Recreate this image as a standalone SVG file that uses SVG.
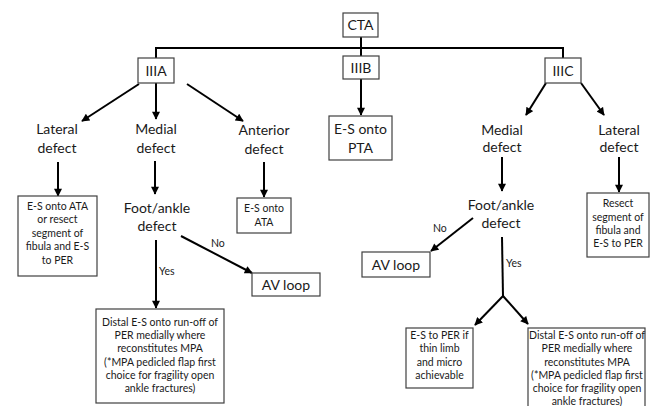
<svg xmlns="http://www.w3.org/2000/svg" width="665" height="406" viewBox="0 0 665 406">
<style>
  .box { fill: #ffffff; stroke: #404040; stroke-width: 1.2; }
  .t { font-family: Lato, "Open Sans", "Liberation Sans", sans-serif; fill: #1a1a1a; text-anchor: middle; }
  .big { font-size: 14px; }
  .sm { font-size: 10.5px; }
  .lbl { font-size: 10.5px; text-anchor: start; }
  .ln { stroke: #000; stroke-width: 2; fill: none; }
  .ar { stroke: #000; stroke-width: 2; fill: none; marker-end: url(#ah); }
</style>
<defs>
  <marker id="ah" viewBox="0 0 10 10" refX="9" refY="5" markerWidth="4.5" markerHeight="4" orient="auto" markerUnits="strokeWidth">
    <path d="M0,0 L10,5 L0,10 z" fill="#000"/>
  </marker>
</defs>
<rect width="665" height="406" fill="#ffffff"/>

<g id="connectors">
  <path class="ln" d="M156,58 V48 H563 V58"/>
  <path class="ln" d="M361,37 V56"/>
  <line class="ar" x1="139" y1="84" x2="82" y2="121"/>
  <line class="ar" x1="156" y1="83" x2="156" y2="119"/>
  <line class="ar" x1="187" y1="84" x2="243" y2="121"/>
  <line class="ar" x1="361" y1="79" x2="361" y2="115"/>
  <line class="ar" x1="546" y1="83" x2="526" y2="115"/>
  <line class="ar" x1="581" y1="83" x2="604" y2="115"/>
  <line class="ar" x1="58" y1="162" x2="58" y2="196"/>
  <line class="ar" x1="155" y1="161" x2="155" y2="194"/>
  <line class="ar" x1="264" y1="162" x2="264" y2="197"/>
  <line class="ar" x1="181" y1="236" x2="252" y2="273"/>
  <line class="ar" x1="156" y1="240" x2="156" y2="308"/>
  <line class="ar" x1="502" y1="157" x2="502" y2="191"/>
  <line class="ar" x1="619" y1="157" x2="619" y2="192"/>
  <line class="ar" x1="473" y1="218" x2="431" y2="251"/>
  <path class="ln" d="M502,237 L503,296"/>
  <line class="ar" x1="503" y1="296" x2="475" y2="325"/>
  <line class="ar" x1="503" y1="296" x2="528" y2="324"/>
  <text class="t lbl" x="211" y="247">No</text>
  <text class="t lbl" x="159" y="275">Yes</text>
  <text class="t lbl" x="433" y="232">No</text>
  <text class="t lbl" x="506" y="267">Yes</text>
</g>

<g id="cta"><rect class="box" x="343" y="13" width="35" height="24"/><text class="t big" x="360.5" y="30">CTA</text></g>
<g id="iiia"><rect class="box" x="138" y="58" width="36" height="25"/><text class="t big" x="156" y="75.5">IIIA</text></g>
<g id="iiib"><rect class="box" x="343" y="56" width="36" height="23"/><text class="t big" x="361" y="72.5">IIIB</text></g>
<g id="iiic"><rect class="box" x="545" y="58" width="36" height="25"/><text class="t big" x="563" y="75.5">IIIC</text></g>

<g id="a-lateral"><text class="t big" x="57" y="134">Lateral</text><text class="t big" x="57" y="153">defect</text></g>
<g id="a-medial"><text class="t big" x="156" y="134">Medial</text><text class="t big" x="156" y="153">defect</text></g>
<g id="a-anterior"><text class="t big" x="264" y="135">Anterior</text><text class="t big" x="264" y="154">defect</text></g>

<g id="a-lat-box"><rect class="box" x="18" y="196" width="79" height="80"/>
  <text class="t sm" x="57.5" y="210">E-S onto ATA</text>
  <text class="t sm" x="57.5" y="223">or resect</text>
  <text class="t sm" x="57.5" y="237">segment of</text>
  <text class="t sm" x="57.5" y="250">fibula and E-S</text>
  <text class="t sm" x="57.5" y="264">to PER</text>
</g>
<g id="a-foot"><text class="t big" x="157" y="213">Foot/ankle</text><text class="t big" x="157" y="231">defect</text></g>
<g id="a-ant-box"><rect class="box" x="237" y="198" width="54" height="35"/>
  <text class="t sm" x="264" y="212">E-S onto</text>
  <text class="t sm" x="264" y="226">ATA</text>
</g>
<g id="a-avloop"><rect class="box" x="252" y="273" width="68" height="23"/><text class="t big" x="286" y="289.5">AV loop</text></g>
<g id="a-distal"><rect class="box" x="96" y="309" width="128" height="94"/>
  <text class="t sm" x="160" y="326">Distal E-S onto run-off of</text>
  <text class="t sm" x="160" y="339">PER medially where</text>
  <text class="t sm" x="160" y="352">reconstitutes MPA</text>
  <text class="t sm" x="160" y="366">(*MPA pedicled flap first</text>
  <text class="t sm" x="160" y="379">choice for fragility open</text>
  <text class="t sm" x="160" y="392">ankle fractures)</text>
</g>

<g id="b-pta"><rect class="box" x="329" y="116" width="63" height="44"/>
  <text class="t big" x="360.5" y="134">E-S onto</text>
  <text class="t big" x="360.5" y="153">PTA</text>
</g>

<g id="c-medial"><text class="t big" x="502" y="135">Medial</text><text class="t big" x="502" y="152">defect</text></g>
<g id="c-lateral"><text class="t big" x="619" y="135">Lateral</text><text class="t big" x="619" y="152">defect</text></g>
<g id="c-resect"><rect class="box" x="587" y="193" width="62" height="64"/>
  <text class="t sm" x="618" y="207">Resect</text>
  <text class="t sm" x="618" y="221">segment of</text>
  <text class="t sm" x="618" y="234">fibula and</text>
  <text class="t sm" x="618" y="247">E-S to PER</text>
</g>
<g id="c-foot"><text class="t big" x="501" y="210">Foot/ankle</text><text class="t big" x="501" y="228">defect</text></g>
<g id="c-avloop"><rect class="box" x="362" y="252" width="68" height="25"/><text class="t big" x="396" y="269.5">AV loop</text></g>
<g id="c-esper"><rect class="box" x="406" y="328" width="67" height="60"/>
  <text class="t sm" x="439.5" y="339">E-S to PER if</text>
  <text class="t sm" x="439.5" y="352">thin limb</text>
  <text class="t sm" x="439.5" y="366">and micro</text>
  <text class="t sm" x="439.5" y="379">achievable</text>
</g>
<g id="c-distal"><rect class="box" x="528" y="328" width="117" height="82"/>
  <text class="t sm" x="587" y="339">Distal E-S onto run-off of</text>
  <text class="t sm" x="587" y="352">PER medially where</text>
  <text class="t sm" x="587" y="366">reconstitutes MPA</text>
  <text class="t sm" x="587" y="379">(*MPA pedicled flap first</text>
  <text class="t sm" x="587" y="392">choice for fragility open</text>
  <text class="t sm" x="587" y="405">ankle fractures)</text>
</g>
</svg>
